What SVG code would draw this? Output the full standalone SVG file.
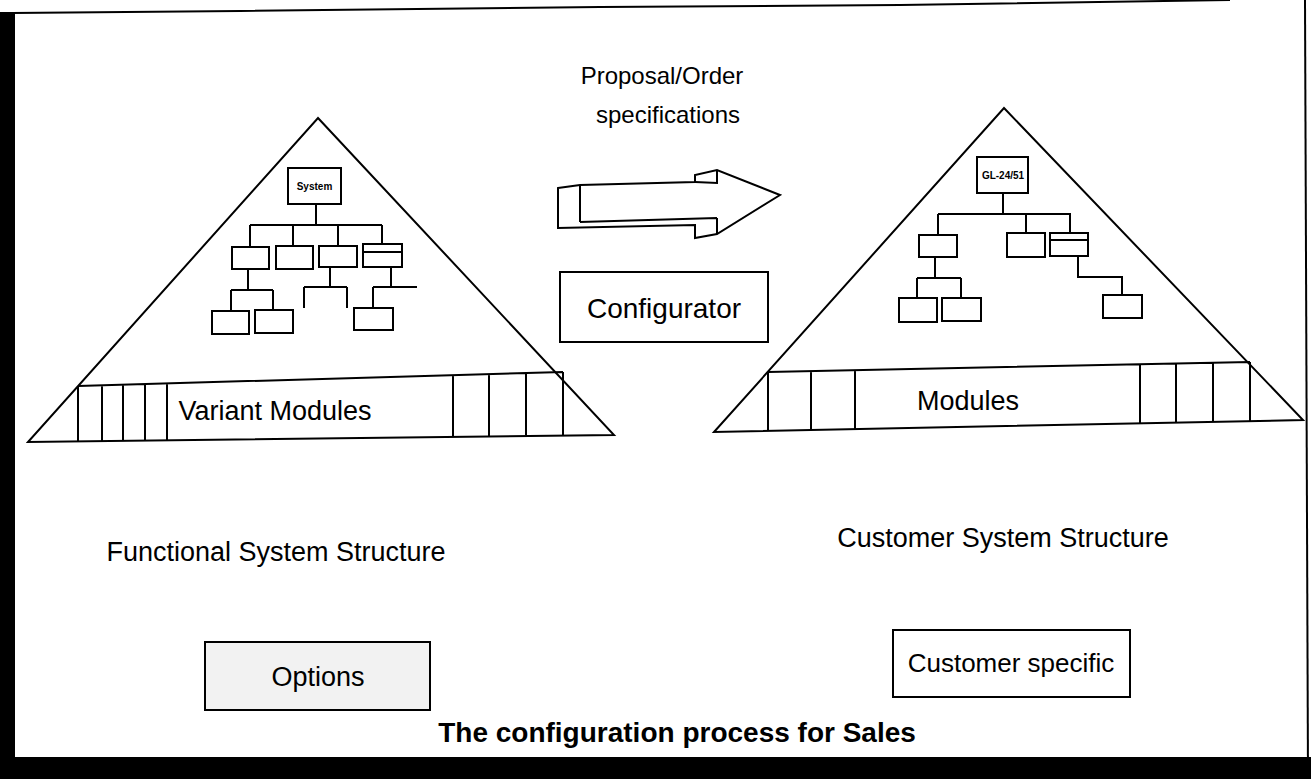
<svg xmlns="http://www.w3.org/2000/svg" width="1311" height="779" viewBox="0 0 1311 779">
<style>
.ln{fill:none;stroke:#000;stroke-width:2}
.bx{fill:#fff;stroke:#000;stroke-width:2}
.tri{fill:#fff;stroke:#000;stroke-width:2;stroke-linejoin:miter}
.t{font-family:"Liberation Sans",Arial,sans-serif;fill:#000;text-anchor:middle}
.lbl{font-size:27px}
.sm{font-size:10px;font-weight:bold}
</style>
<rect x="0" y="0" width="1311" height="779" fill="#fff"/>
<g id="frame">
<path d="M12,13 L240,11 L600,7 L900,5 L1230,0" class="ln"/>
<path d="M1305,0 L1308,779" class="ln"/>
<rect x="0" y="12" width="15" height="767" fill="#000"/>
<rect x="0" y="757" width="1311" height="22" fill="#000"/>
</g>
<g id="functional-structure">
<polygon class="tri" points="318,118 614,435 28,442"/>
<path class="ln" d="M78,386 L563,372 M78,386 V441 M102,385 V441 M123,385 V441 M145,384 V440 M167,384 V440 M453,375 V436 M489,374 V436 M526,373 V435 M563,372 V435"/>
<text class="t lbl" x="275" y="420">Variant Modules</text>
</g>
<g id="customer-structure">
<polygon class="tri" points="1004,108 1303,420 714,432"/>
<path class="ln" d="M768,372 L1250,362 M768,372 V431 M811,371 V430 M855,370 V429 M1140,364 V423 M1176,363 V422 M1213,363 V421 M1250,362 V421"/>
<text class="t lbl" x="968" y="410">Modules</text>
</g>
<g id="system-node">
<rect class="bx" x="288" y="168" width="53" height="36"/>
<text class="t sm" x="314.5" y="190">System</text>
</g>
<g id="gl-node">
<rect class="bx" x="977" y="157" width="51" height="36"/>
<text class="t sm" x="1003" y="179">GL-24/51</text>
</g>
<g id="left-modules">
<rect class="bx" x="232" y="247" width="37" height="22"/>
<rect class="bx" x="276" y="246" width="37" height="23"/>
<rect class="bx" x="319" y="246" width="38" height="21"/>
<rect class="bx" x="363" y="244" width="39" height="23"/>
<path class="ln" d="M363,252 H402"/>
<rect class="bx" x="212" y="311" width="37" height="23"/>
<rect class="bx" x="255" y="310" width="38" height="23"/>
<rect class="bx" x="354" y="308" width="39" height="22"/>
</g>
<g id="right-modules">
<rect class="bx" x="919" y="235" width="38" height="22"/>
<rect class="bx" x="1007" y="233" width="38" height="24"/>
<rect class="bx" x="1050" y="233" width="38" height="23"/>
<path class="ln" d="M1050,240 H1088"/>
<rect class="bx" x="899" y="298" width="38" height="24"/>
<rect class="bx" x="942" y="298" width="39" height="23"/>
<rect class="bx" x="1103" y="295" width="39" height="23"/>
</g>
<g id="connectors">
<path class="ln" d="M316,204 V225 M250,225 H382 M250,225 V247 M293,225 V246 M338,225 V246 M382,225 V244 M248,269 V290 M231,290 H273 M231,290 V311 M273,290 V310 M330,267 V287 M304,287 H347 M304,287 V308 M347,287 V308 M391,267 V287 M373,287 H417 M373,287 V308"/>
<path class="ln" d="M1003,193 V213 M938,214 H1070 M938,214 V235 M1026,213 V233 M1070,213 V233 M935,257 V278 M917,278 H961 M917,278 V298 M961,278 V298 M1078,256 V277 H1122 V295"/>
</g>
<g id="proposal-label">
<text class="t" font-size="24" x="662" y="84">Proposal/Order</text>
<text class="t" font-size="24" x="668" y="123">specifications</text>
</g>
<g id="arrow">
<path class="ln" fill="#fff" d="M558,188 L580,185 L695,182 L695,175 L717,170 L780,195 L717,234 L695,238 L695,225 L558,228 Z"/>
<path class="ln" d="M580,185 V222 M580,222 L717,218 M717,170 V183 L695,182 M717,218 V234"/>
</g>
<g id="configurator">
<rect class="bx" x="560" y="272" width="208" height="70"/>
<text class="t" font-size="28" x="664" y="318">Configurator</text>
</g>
<text class="t lbl" x="276" y="561">Functional System Structure</text>
<text class="t lbl" x="1003" y="547">Customer System Structure</text>
<g id="options">
<rect x="205" y="642" width="225" height="68" fill="#f2f2f2" stroke="#000" stroke-width="2"/>
<text class="t" font-size="27" x="318" y="686">Options</text>
</g>
<g id="customer-specific">
<rect class="bx" x="893" y="630" width="237" height="67"/>
<text class="t" font-size="26" x="1011" y="672">Customer specific</text>
</g>
<text class="t" font-size="28" font-weight="bold" x="677" y="742">The configuration process for Sales</text>
</svg>
